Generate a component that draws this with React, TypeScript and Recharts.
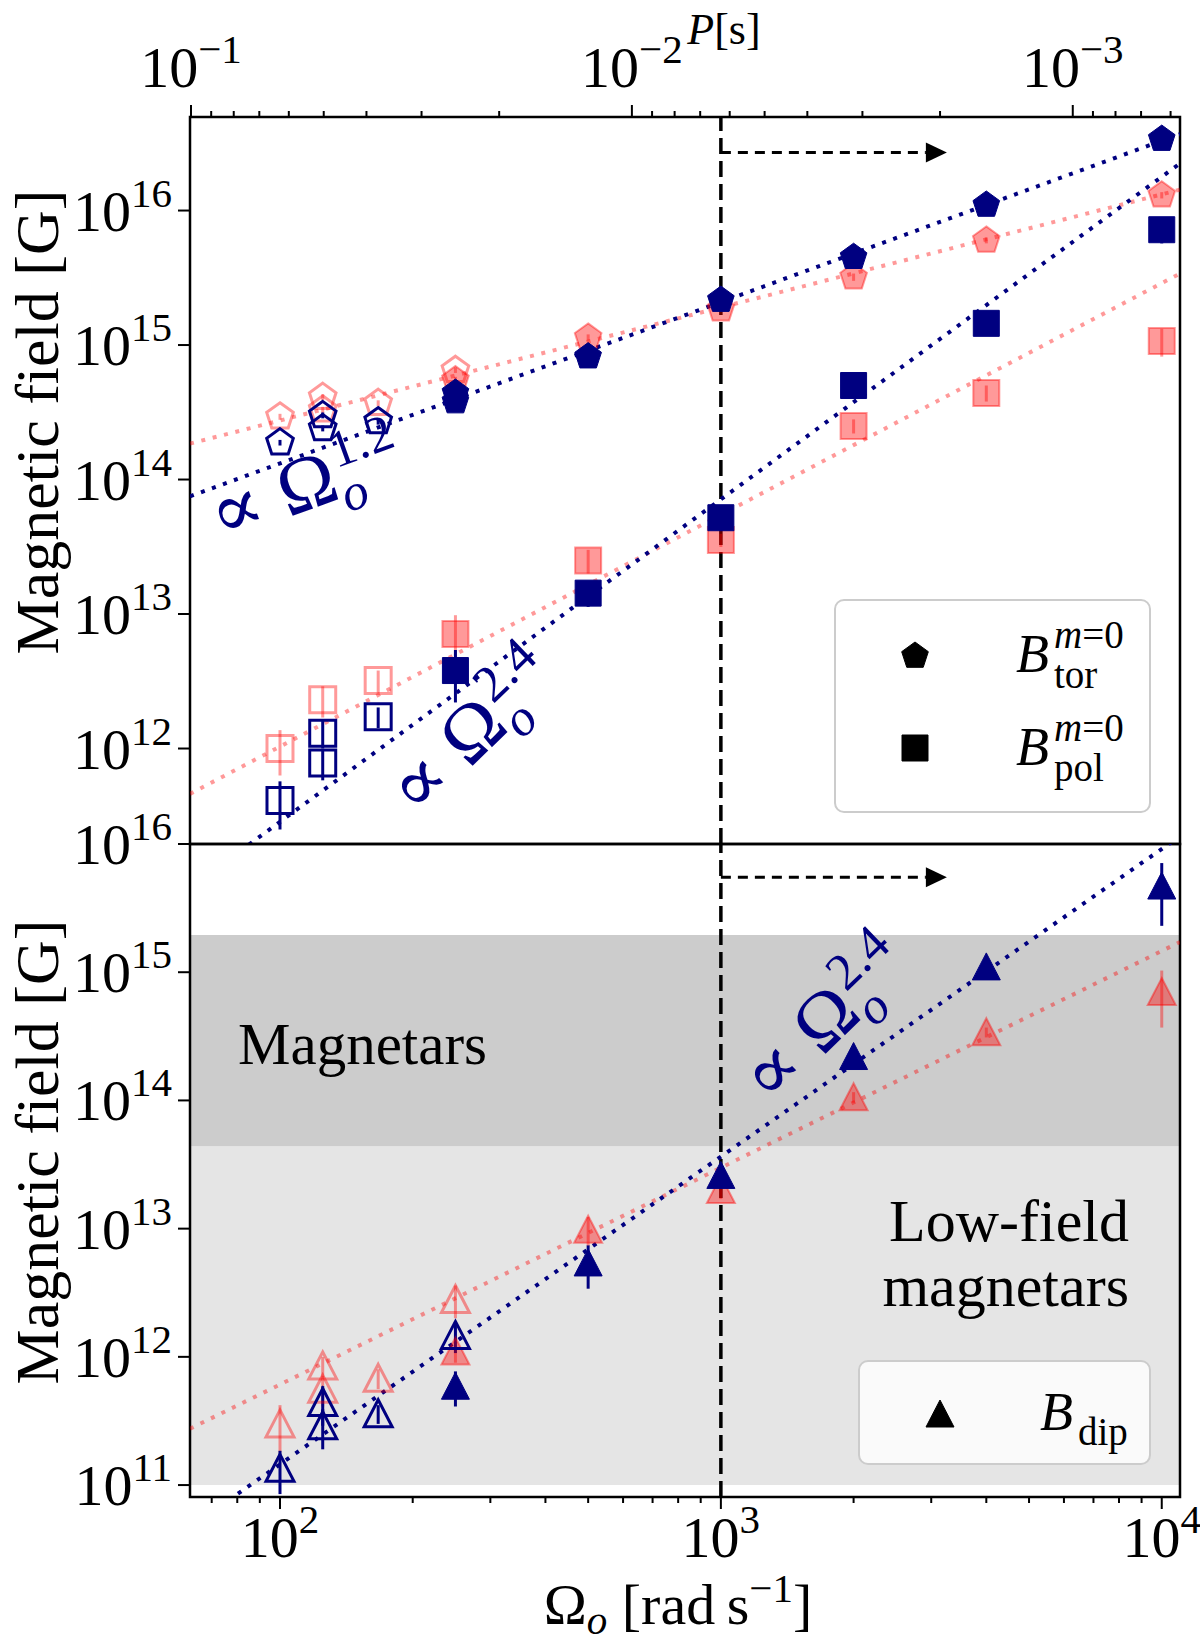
import { ComposedChart, Scatter, Line, XAxis, YAxis, ReferenceArea, ReferenceLine, ErrorBar } from 'recharts'

const NAVY = '#000080'
const RED = 'rgba(255,0,0,0.4)'
const FONT = '"Liberation Serif", "DejaVu Serif", serif'
const TAU = 2 * Math.PI

// axis limits
const omegaRange = [62.5, 11000]
const fieldRangeTop = [1.95e11, 4.96e16]
const fieldRangeBottom = [8.07e10, 1e16]

// ticks
const omegaTicks = [70, 80, 90, 100, 200, 300, 400, 500, 600, 700, 800, 900, 1000, 2000, 3000, 4000, 5000, 6000, 7000, 8000, 9000, 10000]
const periodTicks = [
  0.1, 0.09, 0.08, 0.07, 0.06, 0.05, 0.04, 0.03, 0.02,
  0.01, 0.009, 0.008, 0.007, 0.006, 0.005, 0.004, 0.003, 0.002,
  0.001, 0.0009, 0.0008, 0.0007, 0.0006,
]
const fieldTicksTop = [1e12, 1e13, 1e14, 1e15, 1e16]
const fieldTicksBottom = [1e11, 1e12, 1e13, 1e14, 1e15, 1e16]

// B_tor^{m=0}
const torNavy = [
  { x: 250, y: 3.8e14 }, { x: 250, y: 4.4e14 }, { x: 500, y: 8.2e14 }, { x: 1000, y: 2.16e15 },
  { x: 2000, y: 4.5e15 }, { x: 4000, y: 1.1e16 }, { x: 10000, y: 3.4e16 },
]
const torNavyOpen = [
  { x: 100, y: 1.88e14, e: 9e12 }, { x: 125, y: 2.4e14, e: 1.2e13 }, { x: 125, y: 3.0e14, e: 1.5e13 }, { x: 167, y: 2.7e14, e: 1.4e13 },
]
const torRed = [
  { x: 250, y: 5.5e14, e: 3e13 }, { x: 500, y: 1.14e15, e: 6e13 }, { x: 1000, y: 1.85e15, e: 9e13 },
  { x: 2000, y: 3.2e15, e: 2e14 }, { x: 4000, y: 6.0e15, e: 3e14 }, { x: 10000, y: 1.3e16, e: 7e14 },
]
const torRedOpen = [
  { x: 100, y: 2.93e14, e: 1.5e13 }, { x: 125, y: 3.3e14, e: 1.7e13 }, { x: 125, y: 4.1e14, e: 2e13 },
  { x: 167, y: 3.7e14, e: 1.8e13 }, { x: 250, y: 6.5e14, e: 3e13 },
]

// B_pol^{m=0}
const polNavy = [
  { x: 250, y: 3.8e12, e: 1.6e12 }, { x: 500, y: 1.43e13, e: 3e12 }, { x: 1000, y: 5.2e13, e: 8e12 },
  { x: 2000, y: 5.0e14, e: 4e13 }, { x: 4000, y: 1.45e15, e: 1e14 }, { x: 10000, y: 7.2e15, e: 1.5e15 },
]
const polNavyOpen = [
  { x: 100, y: 4.1e11, e: 1.6e11 }, { x: 125, y: 1.3e12, e: 3e11 }, { x: 125, y: 7.8e11, e: 2e11 }, { x: 167, y: 1.72e12, e: 3e11 },
]
const polRed = [
  { x: 250, y: 7.1e12, e: 2.7e12 }, { x: 500, y: 2.5e13, e: 5e12 }, { x: 1000, y: 3.55e13, e: 4e12 },
  { x: 2000, y: 2.5e14, e: 3e13 }, { x: 4000, y: 4.4e14, e: 6e13 }, { x: 10000, y: 1.07e15, e: 2.5e14 },
]
const polRedOpen = [
  { x: 100, y: 1.0e12, e: 3.7e11 }, { x: 125, y: 2.3e12, e: 6e11 }, { x: 167, y: 3.2e12, e: 6e11 },
]

// B_dip
const dipNavy = [
  { x: 250, y: 5.9e11, e: 1.8e11 }, { x: 500, y: 5.4e12, e: 2e12 }, { x: 1000, y: 2.6e13, e: 4e12 },
  { x: 2000, y: 2.2e14, e: 2e13 }, { x: 4000, y: 1.1e15, e: 5e13 }, { x: 10000, y: 4.7e15, e: 2.4e15 },
]
const dipNavyOpen = [
  { x: 100, y: 1.35e11, e: 5e10 }, { x: 125, y: 4.4e11, e: 1.5e11 }, { x: 125, y: 2.9e11, e: 1e11 },
  { x: 167, y: 3.6e11, e: 6e10 }, { x: 250, y: 1.47e12, e: 4e11 },
]
const dipRed = [
  { x: 250, y: 1.1e12, e: 2e11 }, { x: 500, y: 9.8e12, e: 2.5e12 }, { x: 1000, y: 2.0e13, e: 3e12 },
  { x: 2000, y: 1.06e14, e: 1e13 }, { x: 4000, y: 3.4e14, e: 3e13 }, { x: 10000, y: 7.0e14, e: 3.3e14 },
]
const dipRedOpen = [
  { x: 100, y: 3.0e11, e: 1.2e11 }, { x: 125, y: 8.5e11, e: 1.5e11 }, { x: 125, y: 5.6e11, e: 1.5e11 },
  { x: 167, y: 6.8e11, e: 1.2e11 }, { x: 250, y: 2.8e12, e: 8e11 },
]

// power-law fits (end points)
const fitTorNavy = [{ x: 62.5, y: 7.5e13 }, { x: 11000, y: 3.7e16 }]
const fitTorRed = [{ x: 62.5, y: 1.85e14 }, { x: 11000, y: 1.43e16 }]
const fitPolNavy = [{ x: 85, y: 1.93e11 }, { x: 11000, y: 2.24e16 }]
const fitPolRed = [{ x: 62.5, y: 4.6e11 }, { x: 11000, y: 3.4e15 }]
const fitDipNavy = [{ x: 62.5, y: 4.7e10 }, { x: 11000, y: 1.15e16 }]
const fitDipRed = [{ x: 62.5, y: 2.75e11 }, { x: 11000, y: 1.72e15 }]

// dashed arrows from Omega = 1000
const arrowTop = [{ x: 1000, y: 2.7e16 }, { x: 2917, y: 2.7e16 }]
const arrowBottom = [{ x: 1000, y: 5.5e15 }, { x: 2917, y: 5.5e15 }]

// shaded field ranges
const magnetarBand = [4.4e13, 1.95e15]
const lowFieldBand = [1e11, 4.4e13]

type Kind = 'pent' | 'sq' | 'tri' | 'head'

function markerPoints(kind: Kind, cx: number, cy: number) {
  if (kind === 'pent') {
    const r = 14
    return [0, 1, 2, 3, 4]
      .map((i) => {
        const a = -Math.PI / 2 + (i * 2 * Math.PI) / 5
        return `${cx + r * Math.cos(a)},${cy + r * Math.sin(a)}`
      })
      .join(' ')
  }
  if (kind === 'sq') return `${cx - 13},${cy - 13} ${cx + 13},${cy - 13} ${cx + 13},${cy + 13} ${cx - 13},${cy + 13}`
  if (kind === 'tri') return `${cx},${cy - 14} ${cx + 14},${cy + 13} ${cx - 14},${cy + 13}`
  return `${cx},${cy - 10} ${cx + 21},${cy} ${cx},${cy + 10}`
}

function Marker({ kind, cx, cy, fill, stroke, sw }: any) {
  return <polygon points={markerPoints(kind, cx, cy)} fill={fill} stroke={stroke} strokeWidth={sw} strokeLinejoin="miter" />
}

const shapeOf = (kind: Kind, fill: string, stroke: string, sw: number) => (p: any) =>
  <Marker kind={kind} cx={p.cx} cy={p.cy} fill={fill} stroke={stroke} sw={sw} />

function PowerLabel({ x, y, exp, anchor }: any) {
  return (
    <text x={x} y={y} textAnchor={anchor} fontFamily={FONT} fontSize={58} fill="#000">
      10
      <tspan dy={-24} fontSize={41}>{exp < 0 ? '\u2212' + -exp : String(exp)}</tspan>
    </text>
  )
}

const isDecade = (v: number) => {
  const e = Math.log10(v)
  return Math.abs(e - Math.round(e)) < 1e-6
}

const BottomTick = (props: any) => {
  const { x, y, payload } = props
  const major = isDecade(payload.value)
  return (
    <g>
      <line x1={x} x2={x} y1={y} y2={y + (major ? 12 : 6)} stroke="#000" strokeWidth={2} />
      {major && <PowerLabel x={x} y={y + 60} exp={Math.round(Math.log10(payload.value))} anchor="middle" />}
    </g>
  )
}

const TopTick = (props: any) => {
  const { x, y, payload } = props
  const period = TAU / payload.value
  const major = isDecade(period)
  return (
    <g>
      <line x1={x} x2={x} y1={y} y2={y - (major ? 12 : 6)} stroke="#000" strokeWidth={2} />
      {major && <PowerLabel x={x} y={y - 30} exp={Math.round(Math.log10(period))} anchor="middle" />}
    </g>
  )
}

const LeftTick = (props: any) => {
  const { x, y, payload } = props
  return (
    <g>
      <line x1={x - 12} x2={x} y1={y} y2={y} stroke="#000" strokeWidth={2} />
      <PowerLabel x={x - 18} y={y + 20} exp={Math.round(Math.log10(payload.value))} anchor="end" />
    </g>
  )
}

const fitLine = (data: any[], color: string, key: string) => (
  <Line key={key} data={data} dataKey="y" stroke={color} strokeWidth={4} strokeDasharray="4 7.7"
    dot={false} activeDot={false} isAnimationActive={false} legendType="none" />
)

const points = (data: any[], kind: Kind, fill: string, stroke: string, sw: number, key: string) => (
  <Scatter key={key} data={data} shape={shapeOf(kind, fill, stroke, sw)} isAnimationActive={false} legendType="none">
    <ErrorBar dataKey="e" direction="y" width={0} stroke={stroke} strokeWidth={3} />
  </Scatter>
)

const arrow = (data: any[], key: string) => [
  <Line key={key + 'l'} data={data} dataKey="y" stroke="#000" strokeWidth={3} strokeDasharray="10 7"
    dot={false} activeDot={false} isAnimationActive={false} legendType="none" />,
  <Scatter key={key + 'h'} data={[data[1]]} shape={shapeOf('head', '#000', '#000', 0)} isAnimationActive={false} legendType="none" />,
]

function Frame({ yRange }: { yRange: number[] }) {
  return (
    <ReferenceArea x1={omegaRange[0]} x2={omegaRange[1]} y1={yRange[0]} y2={yRange[1]}
      fill="none" stroke="#000" strokeWidth={2.5} ifOverflow="visible" />
  )
}

function TopPanel() {
  return (
    <ComposedChart width={1200} height={850} margin={{ top: 57, right: 20, bottom: 6, left: 90 }}>
      <XAxis dataKey="x" type="number" scale="log" domain={omegaRange} allowDataOverflow hide />
      <XAxis xAxisId="top" orientation="top" dataKey="x" type="number" scale="log" domain={omegaRange}
        allowDataOverflow height={60} ticks={periodTicks.map((p) => TAU / p)} interval={0}
        tickSize={0} tickMargin={0} tickLine={false} axisLine={false} tick={TopTick} />
      <YAxis dataKey="y" type="number" scale="log" domain={fieldRangeTop} allowDataOverflow width={100}
        ticks={fieldTicksTop} interval={0} tickSize={0} tickMargin={0} tickLine={false} axisLine={false} tick={LeftTick} />
      <ReferenceLine x={1000} stroke="#000" strokeWidth={3.5} strokeDasharray="16 7" />
      {fitLine(fitTorRed, RED, 'ftr')}
      {fitLine(fitPolRed, RED, 'fpr')}
      {fitLine(fitTorNavy, NAVY, 'ftn')}
      {fitLine(fitPolNavy, NAVY, 'fpn')}
      {arrow(arrowTop, 'at')}
      {points(torRedOpen, 'pent', 'none', RED, 3, 'tro')}
      {points(polRedOpen, 'sq', 'none', RED, 3, 'pro')}
      {points(torRed, 'pent', RED, RED, 2, 'tr')}
      {points(polRed, 'sq', RED, RED, 2, 'pr')}
      {points(torNavyOpen, 'pent', 'none', NAVY, 3, 'tno')}
      {points(polNavyOpen, 'sq', 'none', NAVY, 3, 'pno')}
      {points(torNavy, 'pent', NAVY, NAVY, 1, 'tn')}
      {points(polNavy, 'sq', NAVY, NAVY, 1, 'pn')}
      <Frame yRange={fieldRangeTop} />
    </ComposedChart>
  )
}

function BottomPanel() {
  return (
    <ComposedChart width={1200} height={874} margin={{ top: 74, right: 20, bottom: 47, left: 90 }}>
      <XAxis dataKey="x" type="number" scale="log" domain={omegaRange} allowDataOverflow height={100}
        ticks={omegaTicks} interval={0} tickSize={0} tickMargin={0} tickLine={false} axisLine={false} tick={BottomTick} />
      <YAxis dataKey="y" type="number" scale="log" domain={fieldRangeBottom} allowDataOverflow width={100}
        ticks={fieldTicksBottom} interval={0} tickSize={0} tickMargin={0} tickLine={false} axisLine={false} tick={LeftTick} />
      <ReferenceArea x1={omegaRange[0]} x2={omegaRange[1]} y1={lowFieldBand[0]} y2={lowFieldBand[1]}
        fill="#e5e5e5" fillOpacity={1} stroke="none" ifOverflow="hidden" />
      <ReferenceArea x1={omegaRange[0]} x2={omegaRange[1]} y1={magnetarBand[0]} y2={magnetarBand[1]}
        fill="#cccccc" fillOpacity={1} stroke="none" ifOverflow="hidden" />
      <ReferenceLine x={1000} stroke="#000" strokeWidth={3.5} strokeDasharray="16 7" />
      {fitLine(fitDipRed, RED, 'fdr')}
      {fitLine(fitDipNavy, NAVY, 'fdn')}
      {arrow(arrowBottom, 'ab')}
      {points(dipRedOpen, 'tri', 'none', RED, 3, 'dro')}
      {points(dipRed, 'tri', RED, RED, 2, 'dr')}
      {points(dipNavyOpen, 'tri', 'none', NAVY, 3, 'dno')}
      {points(dipNavy, 'tri', NAVY, NAVY, 1, 'dn')}
      <Frame yRange={fieldRangeBottom} />
    </ComposedChart>
  )
}

function Annotation({ x, y, angle, exp }: any) {
  return (
    <g transform={`translate(${x},${y}) rotate(${angle})`}>
      <text x={-28} y={22} fontFamily={FONT} fontSize={78} fill={NAVY}>
        {'\u221D \u03A9'}
        <tspan dy={16} fontSize={52} fontStyle="italic">o</tspan>
        <tspan dx={-22} dy={-46} fontSize={52}>{exp}</tspan>
      </text>
    </g>
  )
}

function Overlay() {
  return (
    <svg width={1200} height={1644} style={{ position: 'absolute', left: 0, top: 0, pointerEvents: 'none' }}>
      <g fontFamily={FONT} fill="#000">
        <text x={724} y={44} fontSize={44} textAnchor="middle">
          <tspan fontStyle="italic">P</tspan>[s]
        </text>
        <text x={678} y={1624} fontSize={58} textAnchor="middle">
          {'\u03A9'}
          <tspan dy={10} fontSize={41} fontStyle="italic">o</tspan>
          <tspan dy={-10}>{' [rad\u2009s'}</tspan>
          <tspan dy={-22} fontSize={41}>{'\u22121'}</tspan>
          <tspan dy={22}>]</tspan>
        </text>
        <text transform="translate(58,422) rotate(-90)" fontSize={62} textAnchor="middle">Magnetic field [G]</text>
        <text transform="translate(58,1152) rotate(-90)" fontSize={62} textAnchor="middle">Magnetic field [G]</text>
        <text x={238} y={1064} fontSize={59}>Magnetars</text>
        <text x={1129} y={1241} fontSize={60} textAnchor="end">Low-field</text>
        <text x={1129} y={1306} fontSize={60} textAnchor="end">magnetars</text>
      </g>
      <Annotation x={239} y={512} angle={-20} exp="1.2" />
      <Annotation x={422} y={784} angle={-44} exp="2.4" />
      <Annotation x={775} y={1072} angle={-44} exp="2.4" />

      <rect x={835} y={600} width={315} height={212} rx={9} fill="#fff" fillOpacity={0.8} stroke="#cccccc" strokeWidth={2} />
      <Marker kind="pent" cx={915} cy={656} fill="#000" stroke="#000" sw={1} />
      <Marker kind="sq" cx={915} cy={748} fill="#000" stroke="#000" sw={1} />
      <g fontFamily={FONT} fill="#000">
        <text x={1016} y={672} fontSize={54} fontStyle="italic">B</text>
        <text x={1054} y={648} fontSize={39}><tspan fontStyle="italic">m</tspan>=0</text>
        <text x={1054} y={688} fontSize={39}>tor</text>
        <text x={1016} y={765} fontSize={54} fontStyle="italic">B</text>
        <text x={1054} y={741} fontSize={39}><tspan fontStyle="italic">m</tspan>=0</text>
        <text x={1054} y={781} fontSize={39}>pol</text>
      </g>

      <rect x={859} y={1361} width={291} height={103} rx={9} fill="#fff" fillOpacity={0.8} stroke="#cccccc" strokeWidth={2} />
      <Marker kind="tri" cx={940} cy={1414} fill="#000" stroke="#000" sw={1} />
      <g fontFamily={FONT} fill="#000">
        <text x={1040} y={1430} fontSize={54} fontStyle="italic">B</text>
        <text x={1078} y={1445} fontSize={39}>dip</text>
      </g>
    </svg>
  )
}

export default function App() {
  return (
    <div style={{ position: 'absolute', left: 0, top: 0, width: 1200, height: 1644, background: '#fff' }}>
      <div style={{ position: 'absolute', left: 0, top: 0 }}>
        <TopPanel />
      </div>
      <div style={{ position: 'absolute', left: 0, top: 770 }}>
        <BottomPanel />
      </div>
      <Overlay />
    </div>
  )
}
